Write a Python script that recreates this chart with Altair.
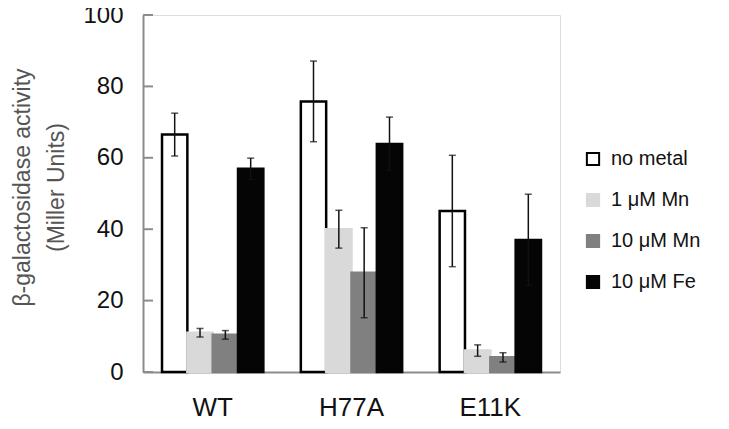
import altair as alt
import pandas as pd

categories = ["WT", "H77A", "E11K"]
series = ["no metal", "1 μM Mn", "10 μM Mn", "10 μM Fe"]
series_colors = ["#ffffff", "#d9d9d9", "#808080", "#050505"]
series_strokes = ["#000000", "#d9d9d9", "#808080", "#050505"]

no_metal = [66.5, 75.8, 45.1]
mn_1 = [11.0, 40.0, 6.0]
mn_10 = [10.4, 27.8, 4.1]
fe_10 = [56.9, 63.9, 37.0]

no_metal_err = [6.0, 11.3, 15.6]
mn_1_err = [1.2, 5.3, 1.6]
mn_10_err = [1.2, 12.6, 1.3]
fe_10_err = [3.0, 7.5, 12.8]

y_ticks = [0, 20, 40, 60, 80, 100]

rows = []
for s, vals, errs in zip(series, [no_metal, mn_1, mn_10, fe_10],
                         [no_metal_err, mn_1_err, mn_10_err, fe_10_err]):
    for c, v, e in zip(categories, vals, errs):
        rows.append({"category": c, "series": s, "value": v,
                     "lo": v - e, "hi": v + e})
df = pd.DataFrame(rows)
ticks_df = pd.DataFrame({"t": y_ticks})

x_enc = alt.X("category:N", sort=categories,
              scale=alt.Scale(paddingInner=0.27, paddingOuter=0.137),
              axis=alt.Axis(title=None, labelAngle=0, labelFontSize=26,
                            labelPadding=22, ticks=False,
                            domainColor="#8c8c8c", domainWidth=2,
                            labelColor="#111111", labelFont="Liberation Sans"))
xoff = alt.XOffset("series:N", sort=series,
                   scale=alt.Scale(paddingInner=0, paddingOuter=0))
y_scale = alt.Scale(domain=[0, 100], nice=False)

bars = alt.Chart(df).mark_bar(strokeWidth=2.5).encode(
    x=x_enc,
    xOffset=xoff,
    y=alt.Y("value:Q", scale=y_scale,
            axis=alt.Axis(values=y_ticks, ticks=False, grid=False,
                          domainColor="#8c8c8c", domainWidth=2,
                          labelFontSize=24, labelPadding=20,
                          labelColor="#111111", labelFont="Liberation Sans",
                          title=["β-galactosidase activity", "(Miller Units)"],
                          titleFontSize=23, titleFontWeight="normal",
                          titleColor="#555555", titleFont="Liberation Sans",
                          titleAngle=270, titleBaseline="top",
                          titleAlign="center", titleLineHeight=34,
                          titleX=-132, titleY=172)),
    fill=alt.Fill("series:N", sort=series,
                  scale=alt.Scale(domain=series, range=series_colors),
                  legend=alt.Legend(title=None, orient="none",
                                    legendX=440, legendY=134,
                                    symbolType="square", symbolSize=150,
                                    symbolStrokeWidth=2, labelFontSize=20,
                                    labelFont="Liberation Sans",
                                    labelColor="#111111", rowPadding=19,
                                    labelOffset=8, padding=0)),
    stroke=alt.Stroke("series:N", sort=series,
                      scale=alt.Scale(domain=series, range=series_strokes),
                      legend=None),
)

err_rule = alt.Chart(df).mark_rule(color="#111111", strokeWidth=1.5).encode(
    x=alt.X("category:N", sort=categories),
    xOffset=xoff,
    y=alt.Y("lo:Q", scale=y_scale),
    y2="hi:Q",
)
cap_lo = alt.Chart(df).mark_tick(color="#111111", thickness=1.5, size=7,
                                 orient="horizontal").encode(
    x=alt.X("category:N", sort=categories),
    xOffset=xoff,
    y=alt.Y("lo:Q", scale=y_scale),
)
cap_hi = alt.Chart(df).mark_tick(color="#111111", thickness=1.5, size=7,
                                 orient="horizontal").encode(
    x=alt.X("category:N", sort=categories),
    xOffset=xoff,
    y=alt.Y("hi:Q", scale=y_scale),
)

tick_marks = alt.Chart(ticks_df).mark_rule(color="#8c8c8c", strokeWidth=2).encode(
    x=alt.value(0),
    x2=alt.value(10),
    y=alt.Y("t:Q", scale=y_scale),
)

chart = alt.layer(bars, err_rule, cap_lo, cap_hi, tick_marks).properties(
    width=417, height=357,
    autosize=alt.AutoSizeParams(type="none"),
    padding={"left": 135, "top": 7, "right": 161, "bottom": 49},
).configure_view(stroke=None).configure(background="white")

chart.save("out.html", embed_options={"renderer": "svg", "actions": False})
